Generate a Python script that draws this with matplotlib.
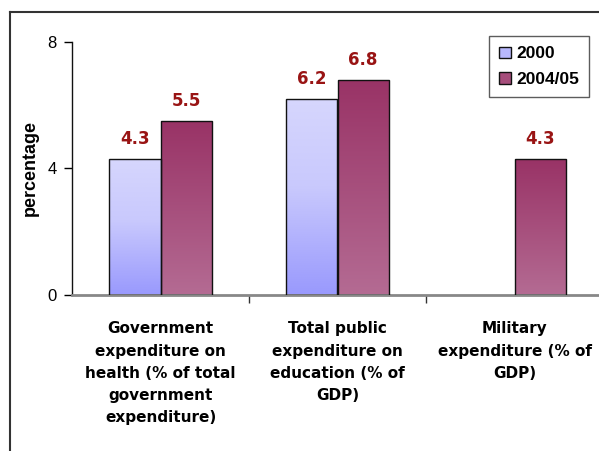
import matplotlib
matplotlib.use('Agg')
import matplotlib.pyplot as plt
import numpy as np
from matplotlib.colors import LinearSegmentedColormap
from matplotlib.patches import Patch
from matplotlib.lines import Line2D

categories = ["Government\nexpenditure on\nhealth (% of total\ngovernment\nexpenditure)",
              "Total public\nexpenditure on\neducation (% of\nGDP)",
              "Military\nexpenditure (% of\nGDP)"]
series_names = ["2000", "2004/05"]
values_2000 = [4.3, 6.2, np.nan]
values_2004 = [5.5, 6.8, 4.3]
yticks = [0, 4, 8]

plt.rcParams['font.family'] = ['Liberation Sans', 'DejaVu Sans']
BOLD = ['DejaVu Sans']

W, H = 599, 451
fig = plt.figure(figsize=(W / 100, H / 100), dpi=100)
ax = fig.add_axes([72 / W, (H - 295) / H, (603 - 72) / W, (295 - 42) / H])

cmap_a = LinearSegmentedColormap.from_list('a', [(0, '#d6d6fd'), (0.45, '#c9c9fd'), (1, '#9999fd')])
cmap_b = LinearSegmentedColormap.from_list('b', [(0, '#993366'), (1, '#b46b93')])

w = 0.29
x = np.arange(len(categories))
grad = np.linspace(0, 1, 256).reshape(-1, 1)

for vals, off, cmap in [(values_2000, -w / 2, cmap_a), (values_2004, w / 2, cmap_b)]:
    bars = ax.bar(x + off, vals, w, facecolor='none', edgecolor='#111111', linewidth=1.0, zorder=3)
    for b, v in zip(bars, vals):
        if np.isnan(v):
            continue
        x0 = b.get_x()
        im = ax.imshow(grad, cmap=cmap, extent=[x0, x0 + w, 0, v], origin='upper',
                       aspect='auto', zorder=2, interpolation='bilinear')
        im.set_clip_path(b)
        ax.annotate(f"{v:.1f}", (x0 + w / 2, v), xytext=(0, 8), textcoords='offset points',
                    ha='center', va='bottom', color='#991414', fontsize=12,
                    fontweight='bold', family=BOLD)

ax.set_xlim(-0.5, 2.5)
ax.set_ylim(0, 8)
ax.set_yticks(yticks)
ax.set_yticklabels([str(t) for t in yticks], fontsize=12)
ax.tick_params(axis='y', length=6, width=1, direction='out', pad=5)
ax.set_xticks(x)
ax.set_xticklabels(categories, fontsize=11, fontweight='bold', linespacing=1.6, family=BOLD)
ax.tick_params(axis='x', which='major', length=0, pad=19)
ax.set_xticks([0.5, 1.5], minor=True)
ax.tick_params(axis='x', which='minor', length=6, width=1, color='#333333')
ax.spines['top'].set_visible(False)
ax.spines['right'].set_visible(False)
ax.spines['left'].set_color('#111111')
ax.spines['left'].set_linewidth(1.0)
ax.spines['bottom'].set_color('#888888')
ax.spines['bottom'].set_linewidth(2.0)
ax.set_ylabel('percentage', fontsize=13, fontweight='bold', labelpad=6)

handles = [Patch(facecolor='#b8b8fd', edgecolor='#111111', linewidth=1.0),
           Patch(facecolor='#a64d7b', edgecolor='#111111', linewidth=1.0)]
leg = fig.legend(handles, series_names, loc='upper left',
                 bbox_to_anchor=(489 / W, 1 - 36 / H), prop={'weight': 'bold', 'size': 12.5},
                 frameon=True, fancybox=False, edgecolor='#333333', handlelength=0.65,
                 handleheight=0.65, handletextpad=0.3, borderpad=0.6, labelspacing=0.6,
                 borderaxespad=0)
leg.get_frame().set_linewidth(1.0)

fig.add_artist(Line2D([10 / W, 1.0], [1 - 12 / H, 1 - 12 / H], transform=fig.transFigure,
                      color='#333333', linewidth=1.5))
fig.add_artist(Line2D([10 / W, 10 / W], [1 - 12 / H, 0], transform=fig.transFigure,
                      color='#333333', linewidth=1.5))

fig.savefig('out.png', dpi=100)
